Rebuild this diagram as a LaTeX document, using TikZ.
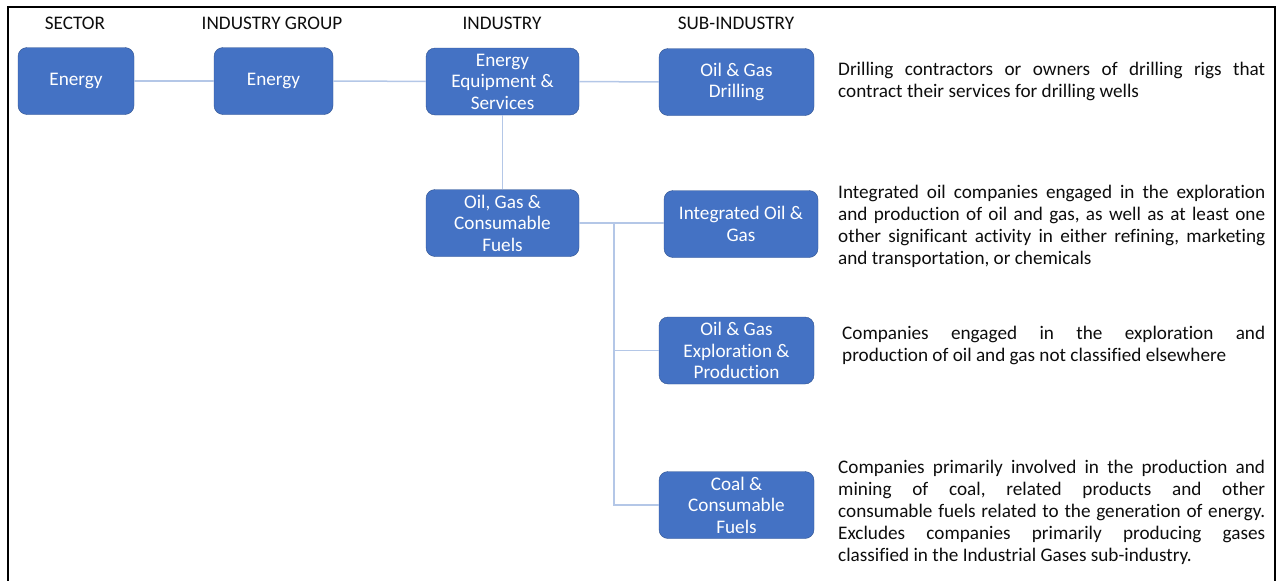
\documentclass[tikz,border=0pt]{standalone}
\usepackage{fontspec}
\setmainfont[Ligatures=NoCommon]{Carlito}
\usetikzlibrary{positioning}
\definecolor{boxblue}{HTML}{4472C4}
\definecolor{boxedge}{HTML}{2F528F}
\definecolor{linkblue}{HTML}{B4C7E7}
\definecolor{inkgray}{HTML}{0D0D0D}
\frenchspacing
\hyphenpenalty=10000
\exhyphenpenalty=10000

\begin{document}
\begin{tikzpicture}[x=1pt, y=-1pt,
                        box/.style={draw=boxedge, fill=boxblue, rounded corners=9pt, text=white,
                                    align=center, minimum height=67pt, inner sep=2pt,
                                    font=\fontsize{19.2}{21.5}\selectfont},
                        head/.style={text=inkgray, font=\fontsize{19.2}{21}\selectfont},
                        desc/.style={anchor=north west, text width=427pt, align=justify, inner sep=0pt,
                                     text=inkgray, font=\fontsize{19.2}{22}\selectfont},
                        link/.style={draw=linkblue, line width=1.5pt}]

            \useasboundingbox (0,0) rectangle (1278,581);
            \draw[line width=2.5pt] (8,600) -- (8,7) -- (1275,7) -- (1275,600);

            % column heads
            \node[head] (hsector) at (75,23) {SECTOR};
            \node[head] (hgroup) at (272,23) {INDUSTRY GROUP};
            \node[head] (hindustry) at (502,23) {INDUSTRY};
            \node[head] (hsub) at (736,23) {SUB-INDUSTRY};

            % boxes
            \node[box, minimum width=116pt] (sector) at (76,81) {Energy};
            \node[box, minimum width=119pt] (group) at (273.5,81) {Energy};
            \node[box, minimum width=153pt] (equip) at (502.5,81.5) {Energy\\Equipment \&\\Services};
            \node[box, minimum width=155pt] (drill) at (736.5,82) {Oil \& Gas\\Drilling};
            \node[box, minimum width=153pt] (fuels) at (502.5,223) {Oil, Gas \&\\Consumable\\Fuels};
            \node[box, minimum width=154pt] (integ) at (741,224) {Integrated Oil \&\\Gas};
            \node[box, minimum width=155pt] (explo) at (736.5,350.5) {Oil \& Gas\\Exploration \&\\Production};
            \node[box, minimum width=155pt] (coal) at (736.5,505) {Coal \&\\Consumable\\Fuels};

            % links
            \draw[link] (sector) -- (group);
            \draw[link] (group) -- (equip);
            \draw[link] (equip) -- (drill);
            \draw[link] (equip) -- (fuels);
            \coordinate (split) at (614,223);
            \draw[link] (fuels.east) -- (integ.west |- fuels.east);
            \draw[link] (split) |- (coal.west);
            \draw[link] (split |- explo.west) -- (explo.west);

            % descriptions
            \node[desc] (ddrill) at (838,60.2) {\strut Drilling contractors or owners of drilling rigs that\linebreak contract their services for drilling wells};
            \node[desc] (dinteg) at (838,183.2) {\strut Integrated oil companies engaged in the exploration\linebreak and production of oil and gas, as well as at least one\linebreak other significant activity in either refining, marketing\linebreak and transportation, or chemicals};
            \node[desc, text width=423pt] (dexplo) at (842,324.2) {\strut Companies engaged in the exploration and\linebreak production of oil and gas not classified elsewhere};
            \node[desc] (dcoal) at (838,458.2) {\strut Companies primarily involved in the production and\linebreak mining of coal, related products and other\linebreak consumable fuels related to the generation of energy.\linebreak Excludes companies primarily producing gases\linebreak classified in the Industrial Gases sub-industry.};

        \end{tikzpicture}
\end{document}
